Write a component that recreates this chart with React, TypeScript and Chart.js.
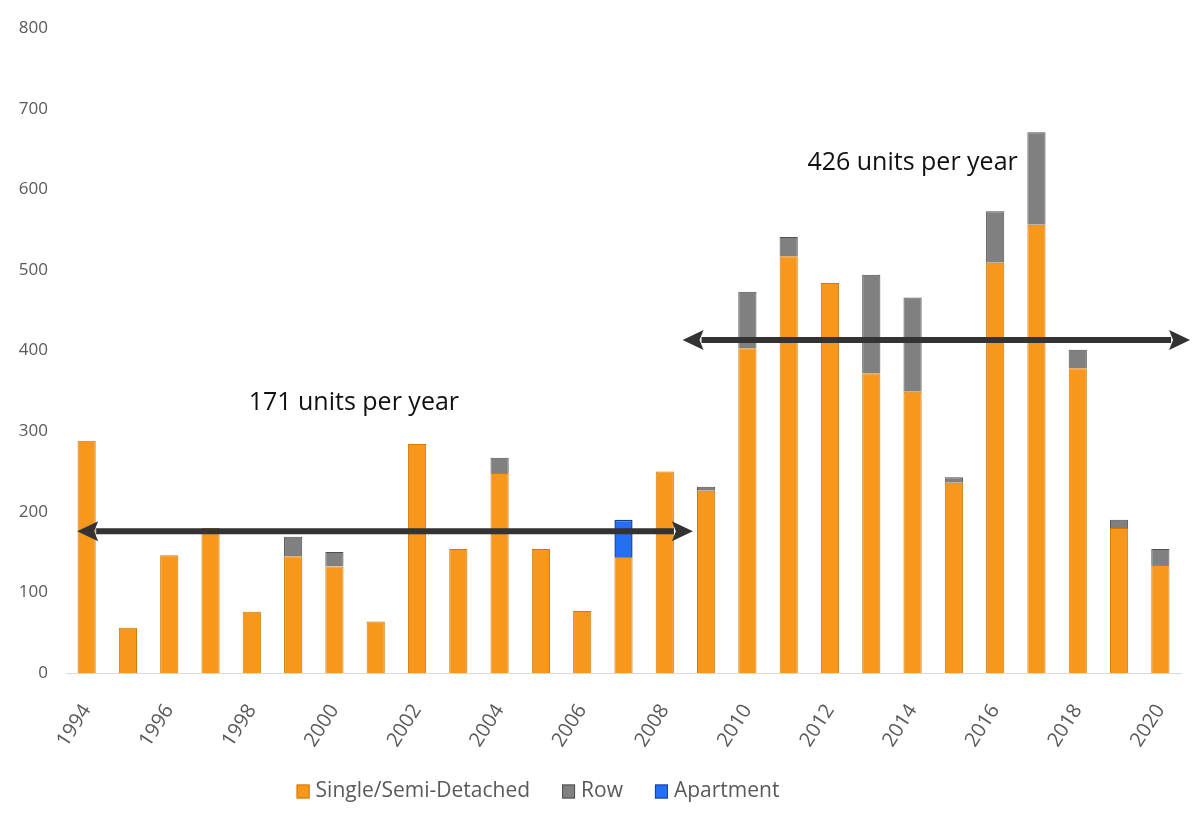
import React, { useEffect, useRef } from "react";
import { Chart, registerables } from "chart.js";

Chart.register(...registerables);

const years = [
  "1994", "1995", "1996", "1997", "1998", "1999", "2000", "2001", "2002", "2003",
  "2004", "2005", "2006", "2007", "2008", "2009", "2010", "2011", "2012", "2013",
  "2014", "2015", "2016", "2017", "2018", "2019", "2020",
];

const singleSemi = [
  288, 56, 146, 180, 76, 145, 132, 64, 284, 154,
  248, 154, 77, 144, 250, 226, 403, 517, 484, 372,
  349, 236, 509, 556, 378, 180, 134,
];

const rowUnits = [
  null, null, null, null, null, 24, 18, null, null, null,
  19, null, null, null, null, 5, 70, 24, null, 122,
  117, 7, 64, 115, 23, 10, 20,
];

const apartmentUnits = [
  null, null, null, null, null, null, null, null, null, null,
  null, null, null, 46, null, null, null, null, null, null,
  null, null, null, null, null, null, null,
];

const seriesNames = ["Single/Semi-Detached", "Row", "Apartment"];

// Average annotations (in data units: category index, value)
const avgLabels = ["171 units per year", "426 units per year"];
const avgArrowValue = [176, 413];
const avgArrowFrom = [-0.23, 14.43];
const avgArrowTo = [14.68, 26.72];
const avgLabelX = [6.47, 20.0];
const avgLabelY = [335, 633];

const FONT = "'Open Sans', 'DejaVu Sans', sans-serif";

const arrowPlugin = {
  id: "avgArrows",
  afterDatasetsDraw(chart: any) {
    const { ctx, scales } = chart;
    const x = scales.x;
    const y = scales.y;
    ctx.save();
    for (let i = 0; i < avgLabels.length; i++) {
      const x1 = x.getPixelForValue(avgArrowFrom[i]);
      const x2 = x.getPixelForValue(avgArrowTo[i]);
      const py = y.getPixelForValue(avgArrowValue[i]);
      const head = 21;
      const half = 10;
      ctx.strokeStyle = "#333333";
      ctx.fillStyle = "#333333";
      ctx.lineWidth = 6;
      ctx.beginPath();
      ctx.moveTo(x1 + head - 2, py);
      ctx.lineTo(x2 - head + 2, py);
      ctx.stroke();
      ctx.beginPath();
      ctx.moveTo(x1, py);
      ctx.lineTo(x1 + head, py - half);
      ctx.lineTo(x1 + head - 4, py);
      ctx.lineTo(x1 + head, py + half);
      ctx.closePath();
      ctx.fill();
      ctx.beginPath();
      ctx.moveTo(x2, py);
      ctx.lineTo(x2 - head, py - half);
      ctx.lineTo(x2 - head + 4, py);
      ctx.lineTo(x2 - head, py + half);
      ctx.closePath();
      ctx.fill();

      ctx.fillStyle = "#111111";
      ctx.font = `25px ${FONT}`;
      ctx.textAlign = "center";
      ctx.textBaseline = "middle";
      ctx.fillText(avgLabels[i], x.getPixelForValue(avgLabelX[i]), y.getPixelForValue(avgLabelY[i]));
    }
    ctx.restore();
  },
};

const legendPlugin = {
  id: "bottomLegend",
  afterDraw(chart: any) {
    const { ctx } = chart;
    const datasets = chart.data.datasets;
    const box = 13;
    const gapText = 6;
    const gapItem = 32;
    const cy = 791;
    ctx.save();
    ctx.font = `21px ${FONT}`;
    ctx.textBaseline = "middle";
    ctx.textAlign = "left";
    let total = 0;
    datasets.forEach((d: any, i: number) => {
      total += box + gapText + ctx.measureText(d.label).width + (i < datasets.length - 1 ? gapItem : 0);
    });
    let cx = 538 - total / 2;
    datasets.forEach((d: any) => {
      ctx.fillStyle = d.backgroundColor;
      ctx.strokeStyle = d.borderColor;
      ctx.lineWidth = 1;
      ctx.fillRect(cx, cy - box / 2, box, box + 1);
      ctx.strokeRect(cx + 0.5, cy - box / 2 + 0.5, box - 1, box);
      cx += box + gapText;
      ctx.fillStyle = "#595959";
      ctx.fillText(d.label, cx, cy);
      cx += ctx.measureText(d.label).width + gapItem;
    });
    ctx.restore();
  },
};

export default function App() {
  const canvasRef = useRef<HTMLCanvasElement | null>(null);

  useEffect(() => {
    document.body.style.margin = "0";
    const canvas = canvasRef.current;
    if (!canvas) return;
    const chart = new Chart(canvas, {
      type: "bar",
      data: {
        labels: years,
        datasets: [
          {
            label: seriesNames[0],
            data: singleSemi,
            backgroundColor: "#F7981D",
            borderColor: "#CF7A0E",
            borderWidth: 1,
            barPercentage: 0.44,
            categoryPercentage: 1,
          },
          {
            label: seriesNames[1],
            data: rowUnits,
            backgroundColor: "#808080",
            borderColor: "#4F4F4F",
            borderWidth: 1,
            barPercentage: 0.44,
            categoryPercentage: 1,
          },
          {
            label: seriesNames[2],
            data: apartmentUnits,
            backgroundColor: "#2470F4",
            borderColor: "#1B3E90",
            borderWidth: 1.5,
            barPercentage: 0.44,
            categoryPercentage: 1,
          },
        ],
      },
      options: {
        animation: false,
        responsive: true,
        maintainAspectRatio: false,
        layout: { padding: { top: 28, right: 13, left: 0, bottom: 6 } },
        plugins: {
          legend: { display: false },
          tooltip: { enabled: false },
        },
        scales: {
          x: {
            stacked: true,
            grid: { display: false, drawTicks: false },
            border: { display: true, color: "#D9D9D9", width: 1 },
            ticks: {
              autoSkip: false,
              minRotation: 57,
              maxRotation: 57,
              padding: 27,
              color: "#595959",
              font: { family: FONT, size: 20 },
              callback: (_v: any, i: number) => (i % 2 === 0 ? years[i] : ""),
            },
            afterFit: (s: any) => {
              s.height = 150;
              s.paddingLeft = 0;
              s.paddingRight = 0;
            },
          },
          y: {
            stacked: true,
            min: 0,
            max: 800,
            grid: { display: false, drawTicks: false },
            border: { display: false },
            ticks: {
              stepSize: 100,
              padding: 18,
              color: "#595959",
              font: { family: FONT, size: 17 },
            },
            afterFit: (s: any) => {
              s.width = 66;
            },
          },
        },
      },
      plugins: [arrowPlugin, legendPlugin],
    });
    return () => chart.destroy();
  }, []);

  return (
    <div style={{ width: 1194, height: 829, position: "relative" }}>
      <canvas ref={canvasRef} />
    </div>
  );
}
